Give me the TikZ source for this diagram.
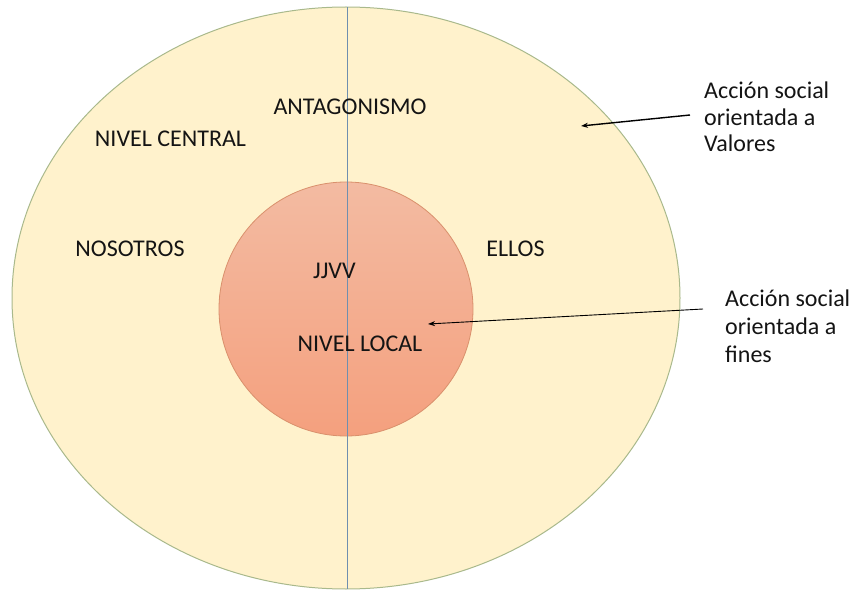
\documentclass[tikz,border=0pt]{standalone}
\usepackage{fontspec}
\setmainfont{Carlito}
\usetikzlibrary{arrows.meta}
\definecolor{outerfill}{HTML}{FFF2CC}
\definecolor{outerline}{HTML}{A9B98C}
\definecolor{innertop}{HTML}{F3BBA2}
\definecolor{innerbot}{HTML}{F4A07E}
\definecolor{innerline}{HTML}{D9906C}
\definecolor{axis}{HTML}{6F8FAF}
\definecolor{ink}{HTML}{141414}
\tikzset{
  lab/.style={inner sep=0pt, text=ink, font=\fontsize{24}{28}\selectfont, anchor=base},
  side/.style={inner sep=0pt, text=ink, align=left, anchor=west},
  arr/.style={draw=black, -{Stealth[length=7pt,width=5pt]}},
}
\begin{document}
\begin{tikzpicture}[x=1pt,y=-1pt]
\useasboundingbox (0,0) rectangle (855,591);
% outer ellipse
\draw[fill=outerfill, draw=outerline, line width=1pt] (346,298) ellipse [x radius=334, y radius=291];
% inner circle
\shade[top color=innertop, bottom color=innerbot] (346,309) circle [radius=127];
\draw[innerline, line width=0.8pt] (346,309) circle [radius=127];
% vertical axis
\draw[axis, line width=1pt] (347,7) -- (347,589);
% labels
\node[lab] (ant) at (350,115) {ANTAGONISMO};
\node[lab] (nc) at (170.5,147) {NIVEL CENTRAL};
\node[lab] (nos) at (130,257) {NOSOTROS};
\node[lab] (ell) at (515.5,257) {ELLOS};
\node[lab] (jj) at (334.5,278) {JJVV};
\node[lab] (nl) at (360,351) {NIVEL LOCAL};
\node[side, font=\fontsize{24}{26.5}\selectfont] (val) at (704,117) {Acción social\\orientada a\\Valores};
\node[side, font=\fontsize{24}{28}\selectfont] (fin) at (725,326) {Acción social\\orientada a\\fines};
% arrows
\coordinate (h1) at (581,126);
\coordinate (h2) at (428,324);
\draw[arr, line width=1.4pt] ([xshift=-14pt,yshift=2pt]val.west) -- (h1);
\draw[arr, line width=0.9pt] ([xshift=-22pt,yshift=17pt]fin.west) -- (h2);
\end{tikzpicture}
\end{document}
